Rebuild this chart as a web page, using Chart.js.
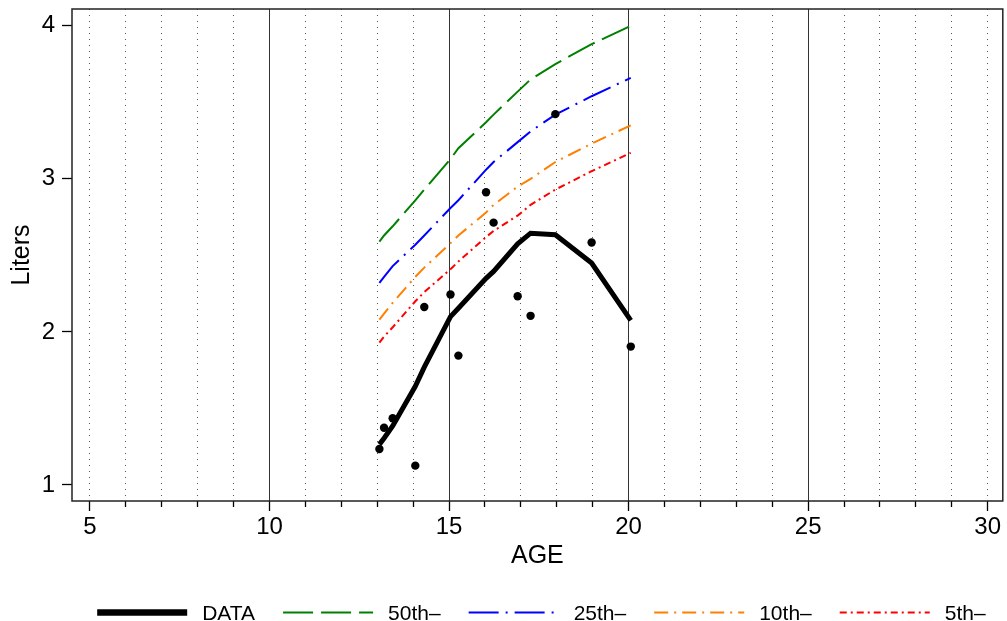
<!DOCTYPE html>
<html>
<head>
<meta charset="utf-8">
<title>Liters by AGE</title>
<script src="https://cdn.jsdelivr.net/npm/chart.js@4"></script>
<style>
  html, body { margin: 0; padding: 0; background: #fff; }
  #wrap { width: 1007px; height: 621px; position: relative; }
</style>
</head>
<body>
<div id="wrap"><canvas id="lungChart"></canvas></div>
<script>
'use strict';

// ============================================================
// DATA
// ============================================================
const ages     = [13.06, 13.19, 13.43, 14.06, 14.31, 15.04, 15.26, 16.03, 16.24, 16.91, 17.27, 17.96, 18.97, 20.06];
const measured = [1.235, 1.374, 1.436, 1.126, 2.163, 2.244, 1.845, 2.913, 2.714, 2.233, 2.105, 3.423, 2.584, 1.904];
const dataFit  = [1.265, 1.305, 1.385, 1.645, 1.77, 2.10, 2.155, 2.35, 2.395, 2.575, 2.645, 2.635, 2.45, 2.075];
const pct50    = [2.59, 2.63, 2.69, 2.86, 2.93, 3.13, 3.20, 3.37, 3.42, 3.57, 3.65, 3.75, 3.88, 4.00];
const pct25    = [2.32, 2.36, 2.43, 2.57, 2.63, 2.81, 2.86, 3.06, 3.11, 3.24, 3.31, 3.42, 3.54, 3.66];
const pct10    = [2.08, 2.12, 2.19, 2.36, 2.42, 2.58, 2.63, 2.78, 2.83, 2.95, 3.00, 3.11, 3.23, 3.35];
const pct5     = [1.93, 1.97, 2.03, 2.20, 2.26, 2.41, 2.46, 2.62, 2.66, 2.76, 2.83, 2.93, 3.05, 3.17];

const xTickLabels = [5, 10, 15, 20, 25, 30];
const xSolidGrid  = [10, 15, 20, 25];
const yTickLabels = [1, 2, 3, 4];

const FONT = "'Liberation Sans', Arial, sans-serif";

const pts = ys => ages.map((a, i) => ({ x: a, y: ys[i] }));

// ============================================================
// FRAME AROUND PLOT
// ============================================================
const framePlugin = {
  id: 'frame',
  afterDraw(chart) {
    const { ctx, chartArea: a } = chart;
    ctx.save();
    ctx.strokeStyle = '#222';
    ctx.lineWidth = 1.5;
    ctx.strokeRect(a.left, a.top, a.right - a.left, a.bottom - a.top);
    ctx.restore();
  }
};

// ============================================================
// LEGEND (line samples, one row under the axis title)
// ============================================================
const lineLegendPlugin = {
  id: 'lineLegend',
  afterDraw(chart) {
    const { ctx, chartArea: a } = chart;
    const items = chart.data.datasets.filter(ds => ds.inLegend);
    const sample = 90, gapText = 15, gapItem = 28, y = 612.5;
    ctx.save();
    ctx.font = `21px ${FONT}`;
    const widths = items.map(ds => sample + gapText + ctx.measureText(ds.label).width);
    const total  = widths.reduce((s, w) => s + w, 0) + gapItem * (items.length - 1);
    let x = (a.left + a.right) / 2 + 4 - total / 2;
    items.forEach((ds, i) => {
      ctx.beginPath();
      ctx.strokeStyle = ds.borderColor;
      ctx.lineWidth = ds.legendWidth || ds.borderWidth;
      ctx.setLineDash(ds.borderDash || []);
      ctx.moveTo(x, y);
      ctx.lineTo(x + sample, y);
      ctx.stroke();
      ctx.setLineDash([]);
      ctx.fillStyle = '#000';
      ctx.textBaseline = 'alphabetic';
      ctx.fillText(ds.label, x + sample + gapText, y + 7.5);
      x += widths[i] + gapItem;
    });
    ctx.restore();
  }
};

// no extra label room at the plot edges
const noEdgePad = s => { s.paddingTop = 0; s.paddingBottom = 0; s.paddingLeft = 0; s.paddingRight = 0; };

// ============================================================
// CHART
// ============================================================
function initLungChart() {
  const el = document.getElementById('lungChart');
  const lineDs = (label, ys, color, width, dash) => ({
    type: 'line', label, data: pts(ys), inLegend: true,
    borderColor: color, backgroundColor: color,
    borderWidth: width, borderDash: dash,
    pointRadius: 0, tension: 0, fill: false
  });

  const fitDs = lineDs('DATA', dataFit, '#000', 5, []);
  fitDs.legendWidth = 6.5;

  new Chart(el, {
    type: 'line',
    data: {
      datasets: [
        { type: 'scatter', label: 'obs', data: pts(measured),
          pointRadius: 4.2, backgroundColor: '#000', borderWidth: 0, showLine: false },
        fitDs,
        lineDs('50th\u2013', pct50, '#008000', 2, [30, 8]),
        lineDs('25th\u2013', pct25, '#0000ff', 2, [30, 7, 2, 7]),
        lineDs('10th\u2013', pct10, '#ff8000', 2, [14, 6, 2, 6]),
        lineDs('5th\u2013', pct5, '#ff0000', 2, [7, 4, 2, 4])
      ]
    },
    options: {
      responsive: true, maintainAspectRatio: false, animation: false,
      layout: { padding: { left: 0, right: 2, top: 9, bottom: 45.5 } },
      plugins: {
        tooltip: { enabled: false },
        legend: { display: false }
      },
      scales: {
        x: {
          type: 'linear', position: 'bottom', min: 4.5, max: 30.42,
          afterFit: s => { s.height = 74.5; noEdgePad(s); },
          title: { display: true, text: 'AGE', color: '#000',
                   font: { family: FONT, size: 25 }, padding: { top: 0, bottom: 4 } },
          ticks: {
            stepSize: 1, includeBounds: false, autoSkip: false, maxRotation: 0,
            color: '#000', font: { family: FONT, size: 24 }, padding: 2,
            callback: v => xTickLabels.includes(v) ? String(v) : ''
          },
          grid: {
            color: c => c.tick && xSolidGrid.includes(c.tick.value) ? '#333' : 'rgba(0,0,0,0)',
            lineWidth: 1, tickLength: 10, tickColor: '#000', tickWidth: 1.3,
            tickBorderDash: c => c.tick && xTickLabels.includes(c.tick.value) ? [] : [6, 30]
          },
          border: { display: false }
        },
        xMinor: {
          type: 'linear', position: 'top', min: 4.5, max: 30.42,
          afterFit: s => { s.height = 0; noEdgePad(s); },
          ticks: { stepSize: 1, includeBounds: false, autoSkip: false, display: false },
          grid: {
            drawTicks: false, lineWidth: 1,
            color: c => c.tick && xSolidGrid.includes(c.tick.value) ? 'rgba(0,0,0,0)' : '#555'
          },
          border: { display: false, dash: [1, 5] }
        },
        y: {
          type: 'linear', position: 'left', min: 0.895, max: 4.11,
          afterFit: s => { s.width = 72; noEdgePad(s); },
          title: { display: true, text: 'Liters', color: '#000',
                   font: { family: FONT, size: 25 }, padding: { top: 7, bottom: 0 } },
          ticks: {
            stepSize: 1, includeBounds: false, color: '#000',
            font: { family: FONT, size: 24 }, padding: 7,
            callback: v => yTickLabels.includes(v) ? String(v) : ''
          },
          grid: { drawOnChartArea: false, tickLength: 10, tickColor: '#000', tickWidth: 1.3 },
          border: { display: false }
        }
      }
    },
    plugins: [framePlugin, lineLegendPlugin]
  });
}

document.addEventListener('DOMContentLoaded', initLungChart);
</script>
</body>
</html>
